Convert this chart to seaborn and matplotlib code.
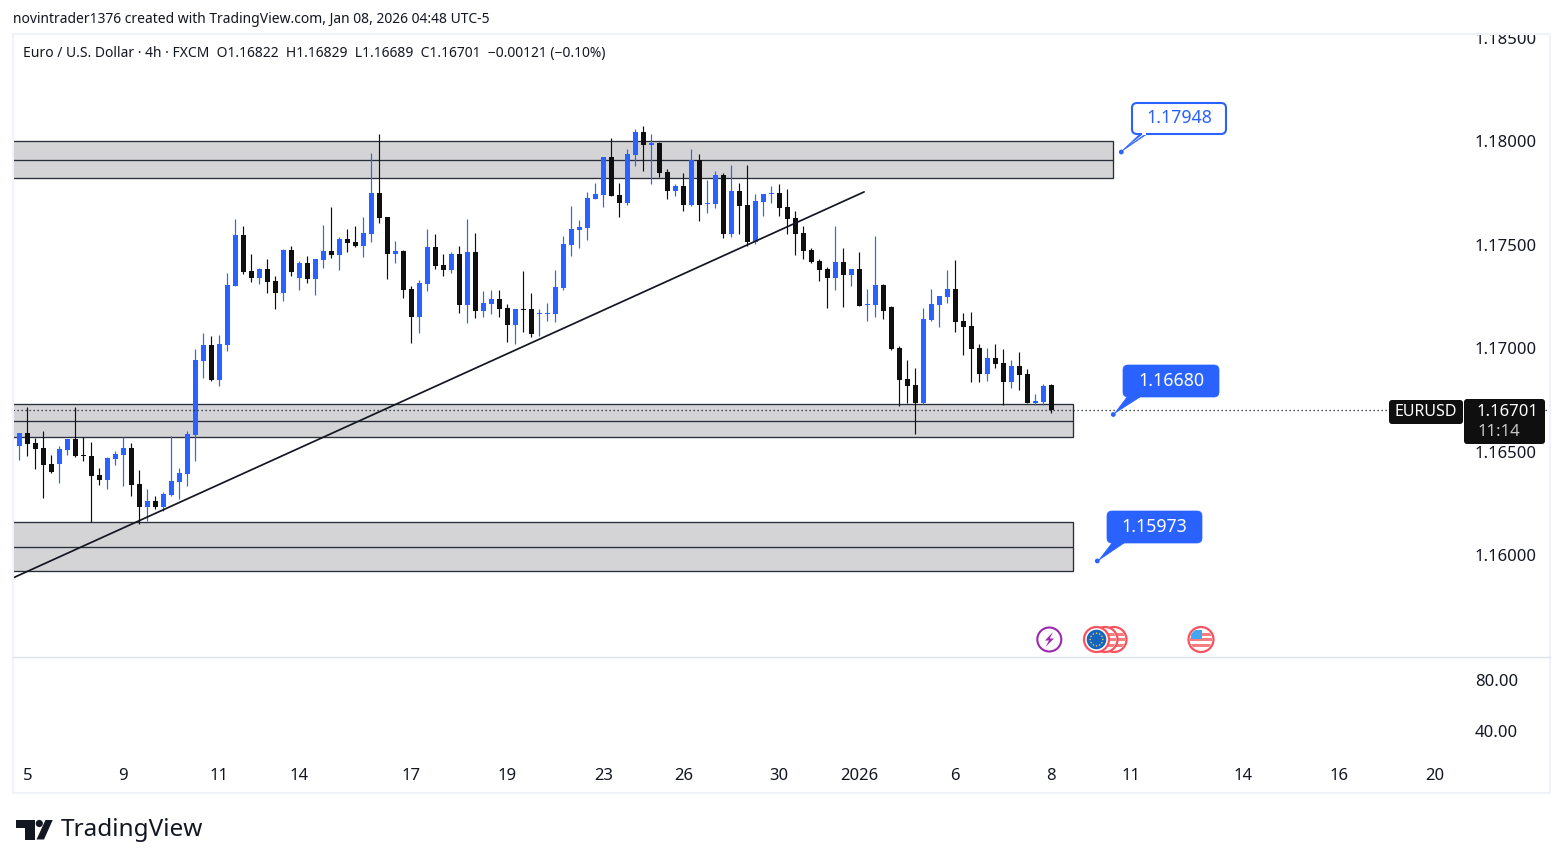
#!/usr/bin/env python3
"""EUR/USD 4h candles with supply/demand zones, TradingView snapshot look"""

import numpy as np
import pandas as pd
import matplotlib
matplotlib.use("Agg")
import matplotlib.pyplot as plt
from matplotlib.patches import Circle, FancyBboxPatch, Polygon, Rectangle
import seaborn as sns

# first bar is the sliver cut off by the left edge of the chart
opens = [
    1.16435, 1.16529, 1.16590, 1.16542, 1.16518, 1.16440, 1.16440, 1.16508, 1.16561, 1.16484,
    1.16479, 1.16387, 1.16363, 1.16464, 1.16484, 1.16518, 1.16344, 1.16232, 1.16261, 1.16232,
    1.16290, 1.16353, 1.16392, 1.16580, 1.16938, 1.17015, 1.16846, 1.17015, 1.17300, 1.17546,
    1.17373, 1.17339, 1.17382, 1.17324, 1.17266, 1.17474, 1.17339, 1.17411, 1.17334, 1.17426,
    1.17469, 1.17450, 1.17527, 1.17513, 1.17493, 1.17551, 1.17749, 1.17633, 1.17455, 1.17469,
    1.17286, 1.17150, 1.17310, 1.17488, 1.17401, 1.17377, 1.17455, 1.17208, 1.17464, 1.17179,
    1.17213, 1.17237, 1.17194, 1.17112, 1.17189, 1.17189, 1.17165, 1.17165, 1.17165, 1.17290,
    1.17498, 1.17571, 1.17580, 1.17720, 1.17740, 1.17923, 1.17740, 1.17701, 1.17933, 1.18044,
    1.17981, 1.17991, 1.17851, 1.17759, 1.17783, 1.17691, 1.17909, 1.17696, 1.17696, 1.17836,
    1.17551, 1.17759, 1.17691, 1.17513, 1.17706, 1.17745, 1.17749, 1.17682, 1.17629, 1.17556,
    1.17474, 1.17421, 1.17382, 1.17339, 1.17416, 1.17353, 1.17382, 1.17208, 1.17208, 1.17305,
    1.17199, 1.17001, 1.16851, 1.16822, 1.16733, 1.17136, 1.17208, 1.17247, 1.17286, 1.17131,
    1.17107, 1.17001, 1.16875, 1.16952, 1.16928, 1.16836, 1.16914, 1.16875, 1.16733, 1.16740,
    1.16822,
]
closes = [
    1.16532, 1.16590, 1.16538, 1.16513, 1.16435, 1.16402, 1.16513, 1.16561, 1.16479, 1.16479,
    1.16382, 1.16363, 1.16469, 1.16488, 1.16518, 1.16339, 1.16232, 1.16261, 1.16232, 1.16295,
    1.16358, 1.16397, 1.16585, 1.16943, 1.17015, 1.16846, 1.17020, 1.17305, 1.17546, 1.17368,
    1.17339, 1.17382, 1.17319, 1.17266, 1.17474, 1.17368, 1.17411, 1.17334, 1.17431, 1.17469,
    1.17450, 1.17527, 1.17508, 1.17493, 1.17556, 1.17749, 1.17629, 1.17455, 1.17469, 1.17281,
    1.17150, 1.17315, 1.17488, 1.17397, 1.17377, 1.17455, 1.17208, 1.17464, 1.17179, 1.17218,
    1.17237, 1.17189, 1.17112, 1.17189, 1.17184, 1.17068, 1.17170, 1.17170, 1.17295, 1.17503,
    1.17575, 1.17585, 1.17725, 1.17745, 1.17923, 1.17735, 1.17701, 1.17938, 1.18044, 1.17981,
    1.17991, 1.17846, 1.17759, 1.17783, 1.17691, 1.17909, 1.17691, 1.17701, 1.17836, 1.17551,
    1.17759, 1.17687, 1.17513, 1.17711, 1.17745, 1.17749, 1.17677, 1.17624, 1.17551, 1.17469,
    1.17416, 1.17377, 1.17339, 1.17416, 1.17353, 1.17382, 1.17203, 1.17213, 1.17305, 1.17179,
    1.16996, 1.16846, 1.16817, 1.16733, 1.17141, 1.17213, 1.17252, 1.17286, 1.17126, 1.17102,
    1.16996, 1.16875, 1.16952, 1.16923, 1.16836, 1.16914, 1.16870, 1.16733, 1.16744, 1.16817,
    1.16701,
]
highs = [
    1.16532, 1.16590, 1.16716, 1.16566, 1.16600, 1.16484, 1.16527, 1.16561, 1.16716, 1.16569,
    1.16546, 1.16421, 1.16474, 1.16503, 1.16571, 1.16542, 1.16411, 1.16319, 1.16286, 1.16305,
    1.16575, 1.16421, 1.16600, 1.16996, 1.17073, 1.17059, 1.17063, 1.17363, 1.17624, 1.17590,
    1.17455, 1.17387, 1.17431, 1.17348, 1.17479, 1.17493, 1.17421, 1.17445, 1.17431, 1.17595,
    1.17682, 1.17537, 1.17575, 1.17590, 1.17633, 1.17943, 1.18034, 1.17633, 1.17517, 1.17474,
    1.17300, 1.17329, 1.17575, 1.17551, 1.17455, 1.17464, 1.17493, 1.17624, 1.17556, 1.17276,
    1.17281, 1.17281, 1.17213, 1.17189, 1.17373, 1.17266, 1.17189, 1.17218, 1.17377, 1.17542,
    1.17687, 1.17619, 1.17754, 1.17798, 1.17923, 1.18015, 1.17798, 1.17962, 1.18058, 1.18073,
    1.18034, 1.17996, 1.17865, 1.17793, 1.17846, 1.17962, 1.17938, 1.17812, 1.17856, 1.17846,
    1.17885, 1.17798, 1.17885, 1.17745, 1.17745, 1.17783, 1.17793, 1.17769, 1.17662, 1.17590,
    1.17484, 1.17431, 1.17392, 1.17590, 1.17484, 1.17382, 1.17464, 1.17286, 1.17542, 1.17310,
    1.17203, 1.17010, 1.16943, 1.16904, 1.17194, 1.17286, 1.17252, 1.17377, 1.17426, 1.17170,
    1.17175, 1.17020, 1.17001, 1.17020, 1.16996, 1.16943, 1.16981, 1.16899, 1.16778, 1.16827,
    1.16829,
]
lows = [
    1.16435, 1.16460, 1.16479, 1.16416, 1.16276, 1.16397, 1.16348, 1.16484, 1.16474, 1.16455,
    1.16158, 1.16339, 1.16319, 1.16435, 1.16334, 1.16286, 1.16152, 1.16165, 1.16223, 1.16213,
    1.16286, 1.16271, 1.16334, 1.16455, 1.16856, 1.16841, 1.16817, 1.16986, 1.17300, 1.17358,
    1.17319, 1.17310, 1.17266, 1.17189, 1.17228, 1.17348, 1.17281, 1.17315, 1.17257, 1.17387,
    1.17435, 1.17377, 1.17464, 1.17488, 1.17440, 1.17513, 1.17604, 1.17334, 1.17411, 1.17242,
    1.17025, 1.17073, 1.17276, 1.17382, 1.17348, 1.17363, 1.17170, 1.17121, 1.17145, 1.17150,
    1.17165, 1.17150, 1.17030, 1.17020, 1.17078, 1.17054, 1.17059, 1.17131, 1.17126, 1.17281,
    1.17445, 1.17484, 1.17522, 1.17720, 1.17682, 1.17735, 1.17633, 1.17691, 1.17880, 1.17856,
    1.17793, 1.17827, 1.17720, 1.17735, 1.17662, 1.17687, 1.17614, 1.17653, 1.17677, 1.17532,
    1.17537, 1.17551, 1.17493, 1.17503, 1.17638, 1.17701, 1.17638, 1.17551, 1.17450, 1.17431,
    1.17411, 1.17324, 1.17194, 1.17281, 1.17199, 1.17300, 1.17203, 1.17131, 1.17150, 1.17141,
    1.16991, 1.16720, 1.16733, 1.16585, 1.16730, 1.17131, 1.17102, 1.17218, 1.17078, 1.16967,
    1.16836, 1.16836, 1.16841, 1.16904, 1.16725, 1.16807, 1.16798, 1.16733, 1.16725, 1.16725,
    1.16689,
]

# time axis, labels sit on bar numbers
time_bars = [2, 14, 26, 36, 50, 62, 74, 84, 96, 106, 118, 130, 140, 154, 166, 178]
time_labels = ["5", "9", "11", "14", "17", "19", "23", "26", "30", "2026", "6", "8", "11", "14", "16", "20"]

price_ticks = [1.16, 1.165, 1.17, 1.175, 1.18, 1.185]
lower_ticks = [40, 80]

# zones: bottom, middle, top, last bar
zone_bottoms = [1.17822, 1.16571, 1.15924]
zone_mids = [1.17909, 1.16648, 1.16042]
zone_tops = [1.18000, 1.16730, 1.16160]
zone_ends = [137.7, 132.7, 132.7]

trend_bars = [0.2, 106.6]
trend_prices = [1.15890, 1.17755]

last_price = 1.16701

BLUE = "#2962FF"
BLACK = "#0F0F0F"
INK = "#131722"
FRAME = "#F0F3FA"
W, H = 1563, 868

sns.set_theme(style="white")
plt.rcParams["font.family"] = ["Noto Sans", "DejaVu Sans"]

fig = plt.figure(figsize=(W / 100, H / 100), dpi=100, facecolor="white")


def px_axes(x0, y0, x1, y1):
    return fig.add_axes([x0 / W, 1 - y1 / H, (x1 - x0) / W, (y1 - y0) / H])


ax = px_axes(13, 34, 1550, 656)
ax2 = px_axes(13, 656, 1550, 757)

# one bar is 8 px, bar 0 is centred at 11.3 px; 20700 px per unit of price
ax.set_xlim((13 - 11.3) / 8, (1550 - 11.3) / 8)
ax.set_ylim(1.18 - (656 - 141.2) / 20700, 1.18 + (141.2 - 34) / 20700)
ax2.set_xlim(ax.get_xlim())
ax2.set_ylim(40 - 26 * 40 / 51, 80 + 24 * 40 / 51)

for bottom, mid, top, end in zip(zone_bottoms, zone_mids, zone_tops, zone_ends):
    ax.add_patch(Rectangle((-5, bottom), end + 5, top - bottom, facecolor="#D4D4D6",
                           edgecolor="#2A2E39", lw=0.95, zorder=1))
    ax.plot([-5, end], [mid, mid], color="#2A2E39", lw=0.95, zorder=1.5)

df = pd.DataFrame({"open": opens, "high": highs, "low": lows, "close": closes})
df["bar"] = np.arange(len(df))
df["up"] = df["close"] >= df["open"]
df["color"] = df["up"].map({True: BLUE, False: BLACK})

ax.vlines(df["bar"], df["low"], df["high"], colors=df["color"], lw=0.85, zorder=3)
body_low = df[["open", "close"]].min(axis=1)
body_size = (df["open"] - df["close"]).abs().clip(lower=0.00003)
ax.bar(df["bar"], body_size, bottom=body_low, width=0.63, color=df["color"], lw=0, zorder=4)

sns.lineplot(x=trend_bars, y=trend_prices, ax=ax, color=INK, lw=1.25, zorder=5, legend=False)
ax.axhline(last_price, color=INK, lw=0.9, ls=(0, (1, 2.2)), zorder=5)

ax.set_xlabel("")
ax.set_ylabel("")
ax.set_xticks([])
ax.yaxis.tick_right()
ax.set_yticks(price_ticks)
ax.set_yticklabels([f"{t:.5f}" for t in price_ticks])
ax.tick_params(axis="y", length=0, pad=-54, labelsize=12, labelcolor=INK)
for lab in ax.get_yticklabels():
    lab.set_ha("left")
    lab.set_clip_on(True)
    lab.set_clip_box(ax.bbox)

ax2.yaxis.tick_right()
ax2.set_yticks(lower_ticks)
ax2.set_yticklabels([f"{t:.2f}" for t in lower_ticks])
ax2.tick_params(axis="y", length=0, pad=-54, labelsize=12, labelcolor=INK)
for lab in ax2.get_yticklabels():
    lab.set_ha("left")
ax2.set_xticks(time_bars)
ax2.set_xticklabels(time_labels)
ax2.tick_params(axis="x", length=0, pad=8, labelsize=12, labelcolor=INK)
for lab in ax2.get_xticklabels():
    if lab.get_text() == "2026":
        lab.set_fontweight("bold")

for a in (ax, ax2):
    a.patch.set_alpha(0)
    a.grid(False)
    for s in a.spines.values():
        s.set_visible(False)

# everything below is chart furniture, placed in picture pixels
over = fig.add_axes([0, 0, 1, 1], zorder=10)
over.set_xlim(0, W)
over.set_ylim(H, 0)
over.axis("off")

over.add_patch(Rectangle((13, 34), 1537, 759, fill=False, edgecolor=FRAME, lw=1.5))
over.plot([13, 1550], [656.5, 656.5], color="#E0E3EB", lw=1)

over.text(13, 19.5, "novintrader1376 created with TradingView.com, Jan 08, 2026 04:48 UTC-5",
          fontsize=10, color=INK, va="center")
over.text(23, 53.5, "Euro / U.S. Dollar · 4h · FXCM  O1.16822  H1.16829  L1.16689  C1.16701  −0.00121 (−0.10%)",
          fontsize=10, color=INK, va="center")


def callout(x0, y0, x1, y1, tail, dot, text, filled=True):
    face = BLUE if filled else "white"
    tail_face = BLUE
    over.add_patch(Polygon(tail, closed=True, facecolor=tail_face, edgecolor=BLUE, lw=0.5))
    if not filled:
        inner = [(tail[0][0] - 2, tail[0][1]), (tail[1][0] + 3, tail[1][1]),
                 (tail[2][0] + 6, tail[2][1] - 5)]
        over.add_patch(Polygon(inner, closed=True, facecolor="white", lw=0))
    over.add_patch(FancyBboxPatch((x0, y0), x1 - x0, y1 - y0, boxstyle="round,pad=0,rounding_size=5",
                                  facecolor=face, edgecolor=BLUE, lw=1.5 if not filled else 0.5))
    if not filled:
        over.add_patch(Rectangle((tail[1][0] + 1.5, y1 - 2), tail[0][0] - tail[1][0] - 3, 3,
                                 facecolor="white", lw=0))
    over.add_patch(Circle(dot, 2.4, color=BLUE, lw=0))
    over.text((x0 + x1) / 2, (y0 + y1) / 2 - 0.5, text, fontsize=12.8, fontweight="bold",
              color="white" if filled else BLUE, ha="center", va="center")


callout(1132, 103, 1226, 134, [(1147, 134), (1140, 134), (1122, 151)], (1121.3, 152), "1.17948", filled=False)
callout(1123, 365, 1219, 397, [(1140, 397), (1127, 397), (1115, 413)], (1113.3, 414.5), "1.16680")
callout(1107, 511, 1202, 543, [(1124, 543), (1112, 543), (1099, 560)], (1097.3, 561), "1.15973")

# last price labels
over.add_patch(FancyBboxPatch((1389, 400), 74, 24, boxstyle="round,pad=0,rounding_size=3", facecolor=BLACK, lw=0))
over.text(1426, 411.5, "EURUSD", color="white", fontsize=11.5, ha="center", va="center")
over.add_patch(FancyBboxPatch((1464, 399), 81, 45, boxstyle="round,pad=0,rounding_size=3", facecolor=BLACK, lw=0))
over.text(1507, 411.5, "1.16701", color="white", fontsize=12, ha="center", va="center")
over.text(1498.5, 432, "11:14", color="#C8C8C8", fontsize=12, ha="center", va="center")

# event icons
RED = "#F7525F"
over.add_patch(Circle((1049.3, 639.5), 12, facecolor="white", edgecolor="#9C27B0", lw=1.5))
over.add_patch(Polygon([(1053, 632), (1045, 640.5), (1049, 640.5), (1045.5, 647), (1054, 638.5), (1049.8, 638.5)],
                       closed=True, facecolor="#9C27B0", lw=0))


def flag_stripes(cx, cy, r, zorder):
    bg = Circle((cx, cy), r, facecolor="white", edgecolor=RED, lw=1.6, zorder=zorder)
    over.add_patch(bg)
    for k in range(3):
        s = Rectangle((cx - r, cy - 7 + k * 5.5), 2 * r, 3, facecolor="#F77C80", lw=0, zorder=zorder + 0.1)
        over.add_patch(s)
        s.set_clip_path(Circle((cx, cy), r - 1.5, transform=over.transData))


flag_stripes(1114, 639.5, 12.5, 11)
flag_stripes(1105, 639.5, 12.5, 12)
over.add_patch(Circle((1096.5, 639.5), 12.5, facecolor="white", edgecolor=RED, lw=1.6, zorder=13))
over.add_patch(Circle((1096.5, 639.5), 9.8, facecolor="#1565C0", lw=0, zorder=14))
for ang in np.arange(0, 360, 30):
    over.add_patch(Circle((1096.5 + 6.3 * np.cos(np.radians(ang)), 639.5 + 6.3 * np.sin(np.radians(ang))), 0.8,
                          facecolor="#E9C84A", lw=0, zorder=15))

flag_stripes(1201, 639.5, 12.5, 11)
canton = Rectangle((1191, 630), 10.5, 9, facecolor="#42A5F5", lw=0, zorder=12)
over.add_patch(canton)
canton.set_clip_path(Circle((1201, 639.5), 11, transform=over.transData))

# logo
logo = "#131722"
over.add_patch(Polygon([(15.5, 820), (35, 820), (35, 839.5), (24.5, 839.5), (24.5, 827.5), (15.5, 827.5)],
                       closed=True, facecolor=logo, lw=0))
over.add_patch(Circle((39.3, 823.5), 3.6, facecolor=logo, lw=0))
over.add_patch(Polygon([(45.5, 820), (52.7, 820), (44, 839.5), (36.5, 839.5)], closed=True, facecolor=logo, lw=0))
over.text(61, 830.5, "TradingView", fontsize=17.5, fontweight="bold", color=logo, va="center")

plt.savefig("out.png", dpi=100)
